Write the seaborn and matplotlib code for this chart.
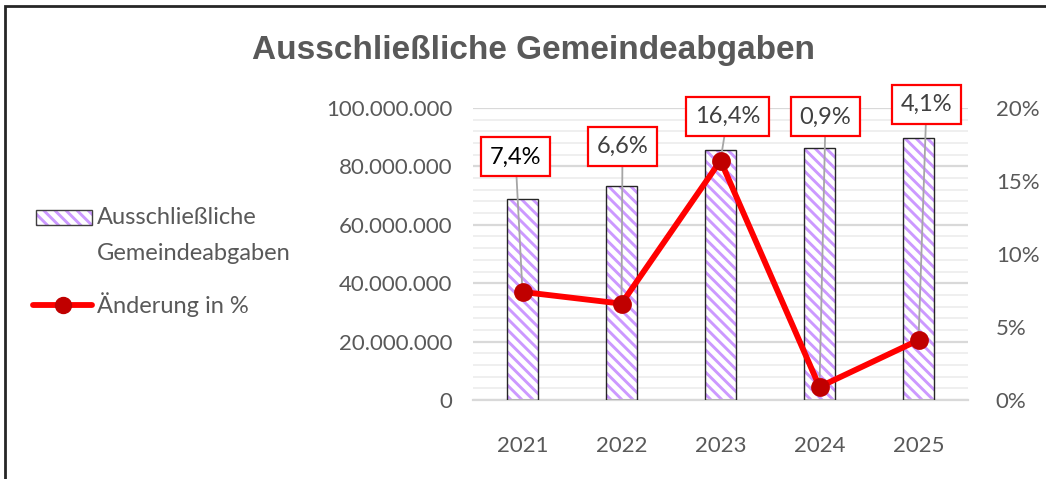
import matplotlib
matplotlib.use("Agg")
import matplotlib.pyplot as plt
from matplotlib.patches import Rectangle
from matplotlib.lines import Line2D
from matplotlib.ticker import FuncFormatter, MultipleLocator
import seaborn as sns

# Data
years = ["2021", "2022", "2023", "2024", "2025"]
abgaben = [68.9e6, 73.4e6, 85.5e6, 86.3e6, 89.8e6]
aenderung = [7.4, 6.6, 16.4, 0.9, 4.1]
aenderung_labels = ["7,4%", "6,6%", "16,4%", "0,9%", "4,1%"]

title = "Ausschließliche Gemeindeabgaben"
bar_label_lines = ["Ausschließliche", "Gemeindeabgaben"]
line_label = "Änderung in %"

sns.set_style("white")
plt.rcParams["font.family"] = ["Lato", "DejaVu Sans"]
plt.rcParams["hatch.linewidth"] = 2.1

TXT = "#595959"
PURPLE = "#CC99FF"
RED = "#FF0000"
DARKRED = "#C00000"
HATCH = "\\\\\\"

W, H = 1046, 479
fig = plt.figure(figsize=(W / 100, H / 100), dpi=100)
ax = fig.add_axes([473 / W, 1 - 400 / H, 495 / W, 292 / H])


def px(x, y):
    """Figure fraction from pixel position measured from the top-left."""
    return x / W, 1 - y / H


# bars: hatched fill, then a separate outline layer
sns.barplot(x=years, y=abgaben, ax=ax, width=0.32, color=PURPLE, zorder=2)
for p in ax.patches:
    p.set_facecolor("white")
    p.set_edgecolor(PURPLE)
    p.set_hatch(HATCH)
    p.set_linewidth(0)
sns.barplot(x=years, y=abgaben, ax=ax, width=0.32, fill=False,
            color="#262626", linewidth=1.0, zorder=3)

ax.set_ylim(0, 100e6)
ax.set_xlim(-0.5, 4.5)
ax.yaxis.set_major_locator(MultipleLocator(20e6))
ax.yaxis.set_minor_locator(MultipleLocator(4e6))
ax.yaxis.set_major_formatter(FuncFormatter(lambda v, _: f"{int(round(v)):,}".replace(",", ".")))
ax.grid(axis="y", which="major", color="#D9D9D9", linewidth=1.6, zorder=0)
ax.grid(axis="y", which="minor", color="#EFEFEF", linewidth=1.4, zorder=0)
ax.set_axisbelow(True)
for s in ["left", "right", "top"]:
    ax.spines[s].set_visible(False)
ax.spines["bottom"].set_color("#D9D9D9")
ax.spines["bottom"].set_linewidth(1.6)
ax.tick_params(axis="y", which="both", length=0, pad=15, labelsize=16, labelcolor=TXT)
ax.tick_params(axis="x", length=0, pad=26, labelsize=16, labelcolor=TXT)
ax.set_xlabel("")
ax.set_ylabel("")

# percentage line on the secondary axis
ax2 = ax.twinx()
sns.pointplot(x=years, y=aenderung, ax=ax2, color=RED, markers="o",
              linestyles="-", zorder=5)
for ln in ax2.lines:
    ln.set_linewidth(4.2)
    ln.set_markersize(11.5)
    ln.set_markerfacecolor(DARKRED)
    ln.set_markeredgecolor(DARKRED)
ax2.set_ylim(0, 20)
ax2.set_xlim(-0.5, 4.5)
ax2.yaxis.set_major_locator(MultipleLocator(5))
ax2.yaxis.set_major_formatter(FuncFormatter(lambda v, _: f"{int(round(v))}%"))
for s in ["left", "right", "top", "bottom"]:
    ax2.spines[s].set_visible(False)
ax2.tick_params(axis="y", length=0, pad=20, labelsize=16, labelcolor=TXT)
ax2.set_ylabel("")
ax2.grid(False)

# value callouts with leader lines
offsets = [(-7, 135), (1, 157), (7, 44), (6, 270), (8, 236)]
for i, (val, lab, off) in enumerate(zip(aenderung, aenderung_labels, offsets)):
    ax2.annotate(lab, xy=(i, val), xytext=off, textcoords="offset pixels",
                 ha="center", va="center", fontsize=17,
                 color="#000000" if i == 0 else "#404040",
                 bbox=dict(boxstyle="square,pad=0.38", fc="white", ec=RED, lw=1.6),
                 arrowprops=dict(arrowstyle="-", color="#A6A6A6", lw=1.3,
                                 shrinkA=0, shrinkB=0),
                 zorder=4, annotation_clip=False)

# title
fig.text(*px(533, 50), title, ha="center", va="center",
         fontsize=24, fontweight="bold", color=TXT,
         family=["Liberation Sans", "DejaVu Sans"])

# legend keys and labels
x0, y0 = px(36, 225)
fig.patches.append(Rectangle((x0, y0), 56 / W, 15 / H, transform=fig.transFigure,
                             facecolor="white", edgecolor=PURPLE, hatch=HATCH,
                             linewidth=0))
fig.patches.append(Rectangle((x0, y0), 56 / W, 15 / H, transform=fig.transFigure,
                             fill=False, edgecolor="#404040", linewidth=1.0))
lx = [px(33, 305)[0], px(62.5, 305)[0], px(92, 305)[0]]
ly = [px(0, 305)[1]] * 3
fig.lines.append(Line2D(lx, ly, transform=fig.transFigure, color=RED, lw=4.2,
                        marker="o", markersize=11.5, markevery=[1],
                        markerfacecolor=DARKRED, markeredgecolor=DARKRED,
                        solid_capstyle="round"))
for txt, yy in zip(bar_label_lines + [line_label], [218, 254, 305]):
    fig.text(*px(97, yy), txt, ha="left", va="center", fontsize=17, color=TXT)

# chart frame
fig.patches.append(Rectangle((5 / W, -0.1), 1.2, 1 - 6 / H + 0.1,
                             transform=fig.transFigure, fill=False,
                             edgecolor="#262626", linewidth=2.0))

fig.savefig("out.png", dpi=100, facecolor="white")
